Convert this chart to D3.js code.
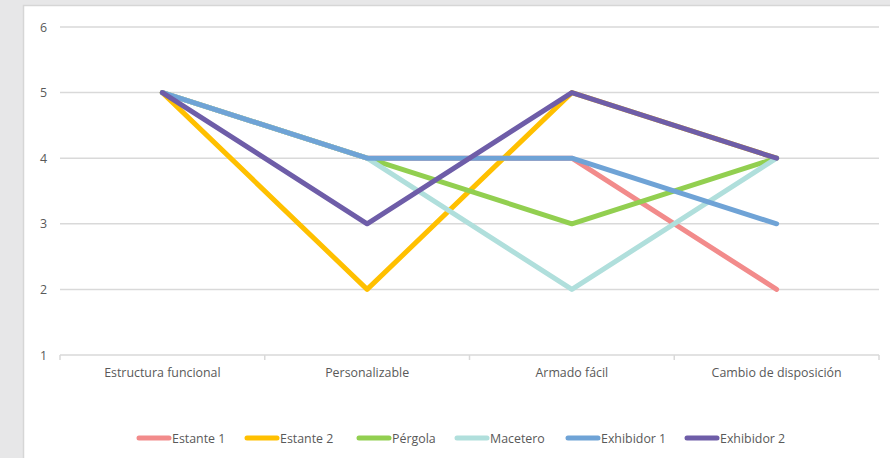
<!DOCTYPE html>
<html>
<head>
<meta charset="utf-8">
<script src="https://cdn.jsdelivr.net/npm/d3@7"></script>
<style>
  html, body { margin: 0; padding: 0; background: #e7e7e8; }
  svg { display: block; }
</style>
</head>
<body>
<div id="chart"></div>
<script>
// categories and series
const categories = ['Estructura funcional', 'Personalizable', 'Armado fácil', 'Cambio de disposición'];
const seriesNames = ['Estante 1', 'Estante 2', 'Pérgola', 'Macetero', 'Exhibidor 1', 'Exhibidor 2'];
const estante1 = [5, 4, 4, 2];
const estante2 = [5, 2, 5, 4];
const pergola = [5, 4, 3, 4];
const macetero = [5, 4, 2, 4];
const exhibidor1 = [5, 4, 4, 3];
const exhibidor2 = [5, 3, 5, 4];
const yTicks = [1, 2, 3, 4, 5, 6];

const colors = ['#f28b8b', '#ffc000', '#92cf50', '#b0dfdc', '#6fa3d6', '#6e5da8'];
const seriesValues = [estante1, estante2, pergola, macetero, exhibidor1, exhibidor2];

const width = 890, height = 458;
const margin = { left: 60, right: 11, top: 27, bottom: 103 };
const font = '"Open Sans", sans-serif';
const fontSize = '12.4px';

const svg = d3.select('#chart').append('svg')
    .attr('width', width)
    .attr('height', height);

// white chart panel on grey background
svg.append('rect')
    .attr('x', 23.5).attr('y', 5.5)
    .attr('width', width).attr('height', height)
    .attr('fill', '#ffffff')
    .attr('stroke', '#d6d6d6')
    .attr('stroke-width', 1.5);

const x = d3.scaleBand()
    .domain(categories)
    .range([margin.left, width - margin.right]);

const y = d3.scaleLinear()
    .domain([1, 6])
    .range([height - margin.bottom, margin.top]);

// gridlines
svg.append('g')
    .selectAll('line')
    .data(yTicks.slice(1))
    .join('line')
    .attr('x1', margin.left)
    .attr('x2', width - margin.right)
    .attr('y1', d => y(d))
    .attr('y2', d => y(d))
    .attr('stroke', '#d9d9d9')
    .attr('stroke-width', 1.5);

// y axis labels
svg.append('g')
    .selectAll('text')
    .data(yTicks)
    .join('text')
    .attr('x', 47)
    .attr('y', d => y(d) + 4.5)
    .attr('text-anchor', 'end')
    .attr('font-family', font)
    .attr('font-size', fontSize)
    .attr('fill', '#595959')
    .text(d => d);

// x axis with tick marks at band edges
const xAxis = svg.append('g')
    .attr('transform', `translate(0,${y(1)})`)
    .call(d3.axisBottom(x).tickSize(0).tickPadding(13).tickSizeOuter(0));
xAxis.select('.domain').remove();
xAxis.selectAll('text')
    .attr('font-family', font)
    .attr('font-size', fontSize)
    .attr('fill', '#595959');

const bandEdges = categories.map(c => x(c)).concat([x.range()[1]]);
xAxis.append('line')
    .attr('x1', x.range()[0]).attr('x2', x.range()[1])
    .attr('stroke', '#d9d9d9').attr('stroke-width', 1.5);
xAxis.selectAll('.edge')
    .data(bandEdges)
    .join('line')
    .attr('class', 'edge')
    .attr('x1', d => d).attr('x2', d => d)
    .attr('y1', 0).attr('y2', 5)
    .attr('stroke', '#d9d9d9').attr('stroke-width', 1.5);

// series lines
const line = d3.line()
    .x((d, i) => x(categories[i]) + x.bandwidth() / 2)
    .y(d => y(d));

svg.append('g')
    .selectAll('path')
    .data(seriesValues)
    .join('path')
    .attr('d', d => line(d))
    .attr('fill', 'none')
    .attr('stroke', (d, i) => colors[i])
    .attr('stroke-width', 5)
    .attr('stroke-linecap', 'round')
    .attr('stroke-linejoin', 'round');

// legend
const legendX = [137, 245, 357, 455, 566, 685];
const legend = svg.append('g').attr('transform', 'translate(0,438)');
seriesNames.forEach((name, i) => {
    legend.append('line')
        .attr('x1', legendX[i] + 2).attr('x2', legendX[i] + 32)
        .attr('stroke', colors[i])
        .attr('stroke-width', 5)
        .attr('stroke-linecap', 'round');
    legend.append('text')
        .attr('x', legendX[i] + 35)
        .attr('y', 4.5)
        .attr('font-family', font)
        .attr('font-size', fontSize)
        .attr('fill', '#595959')
        .text(name);
});
</script>
</body>
</html>
